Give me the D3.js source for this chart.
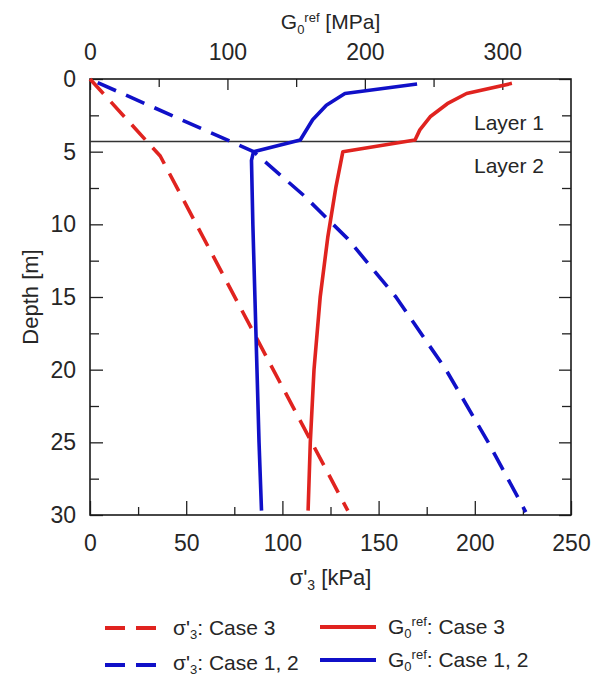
<!DOCTYPE html>
<html>
<head>
<meta charset="utf-8">
<script src="https://cdn.jsdelivr.net/npm/d3@7"></script>
<style>
  body { margin: 0; background: #fff; }
  text { font-family: "Liberation Sans", Arial, sans-serif; fill: #262626; }
</style>
</head>
<body>
<svg id="chart" width="591" height="677"></svg>
<script>
// Effective confining stress sigma'3 [kPa] against depth [m]
const sigmaCase3Depth  = [0, 5.3, 29.7];
const sigmaCase3Value  = [0, 36.5, 134];
const sigmaCase12Depth = [0.25, 5.0, 8, 11, 15, 20, 25, 29.8];
const sigmaCase12Value = [4, 85, 111, 134, 159, 185, 207, 226.5];

// Reference small-strain shear modulus G0ref [MPa] against depth [m]
const gCase3Depth  = [0.3, 1.0, 1.7, 2.6, 3.5, 4.2, 5.0, 7.4, 10.9, 15, 20, 25, 29.7];
const gCase3Value  = [307, 274, 260, 247.5, 240, 236.5, 184, 179, 173, 167.5, 163, 160.3, 158.7];
const gCase12Depth = [0.35, 1.0, 1.8, 2.8, 4.2, 5.0, 5.6, 10, 15, 20, 25, 29.7];
const gCase12Value = [238, 185.5, 172, 162, 153, 119, 117.5, 118.5, 120, 121.5, 123, 124.8];

// Boundary between the two soil layers [m]
const layerBoundary = 4.3;
const layerLabels = ["Layer 1", "Layer 2"];

// Axis ticks
const depthMajor = [0, 5, 10, 15, 20, 25, 30];
const depthMinor = [2.5, 7.5, 12.5, 17.5, 22.5, 27.5];
const kpaMajor = [0, 50, 100, 150, 200, 250];
const kpaMinor = [25, 75, 125, 175, 225];
const mpaMajor = [0, 100, 200, 300];
const mpaMinor = [50, 150, 250];

const RED = "#e0231f";
const BLUE = "#1010c8";

const svg = d3.select("#chart");
const margin = { left: 90, top: 79, right: 20, bottom: 162 };
const W = 591, H = 677;
const x0 = margin.left, x1 = W - margin.right;
const y0 = margin.top, y1 = H - margin.bottom;

const y = d3.scaleLinear().domain([0, 30]).range([y0, y1]);
const xK = d3.scaleLinear().domain([0, 250]).range([x0, x1]);
const xM = d3.scaleLinear().domain([0, 350]).range([x0, x1]);

const fontSize = 23;

function styleAxis(g) {
  g.select(".domain").remove();
  g.selectAll("line").attr("stroke", "#222").attr("stroke-width", 1.3);
  g.selectAll("text").attr("font-size", fontSize).attr("fill", "#262626")
    .attr("font-family", "Liberation Sans, Arial, sans-serif");
}

// Left axis (depth), ticks pointing inward
svg.append("g").attr("transform", `translate(${x0},0)`)
  .call(d3.axisLeft(y).tickValues(depthMajor).tickSize(-13).tickPadding(14))
  .call(styleAxis);
svg.append("g").attr("transform", `translate(${x0},0)`)
  .call(d3.axisLeft(y).tickValues(depthMinor).tickSize(-9).tickFormat(""))
  .call(styleAxis);
// Right side ticks
svg.append("g").attr("transform", `translate(${x1},0)`)
  .call(d3.axisRight(y).tickValues(depthMajor).tickSize(-12).tickFormat(""))
  .call(styleAxis);
svg.append("g").attr("transform", `translate(${x1},0)`)
  .call(d3.axisRight(y).tickValues(depthMinor).tickSize(-9).tickFormat(""))
  .call(styleAxis);

// Bottom axis (sigma'3)
svg.append("g").attr("transform", `translate(0,${y1})`)
  .call(d3.axisBottom(xK).tickValues(kpaMajor).tickSize(-14).tickPadding(20))
  .call(styleAxis);
svg.append("g").attr("transform", `translate(0,${y1})`)
  .call(d3.axisBottom(xK).tickValues(kpaMinor).tickSize(-8).tickFormat(""))
  .call(styleAxis);

// Top axis (G0ref)
svg.append("g").attr("transform", `translate(0,${y0})`)
  .call(d3.axisTop(xM).tickValues(mpaMajor).tickSize(-11).tickPadding(19))
  .call(styleAxis);
svg.append("g").attr("transform", `translate(0,${y0})`)
  .call(d3.axisTop(xM).tickValues(mpaMinor).tickSize(-8).tickFormat(""))
  .call(styleAxis);

// Plot frame
svg.append("rect")
  .attr("x", x0).attr("y", y0).attr("width", x1 - x0).attr("height", y1 - y0)
  .attr("fill", "none").attr("stroke", "#1a1a1a").attr("stroke-width", 1.6);

// Layer boundary
svg.append("line")
  .attr("x1", x0).attr("x2", x1)
  .attr("y1", y(layerBoundary)).attr("y2", y(layerBoundary))
  .attr("stroke", "#333").attr("stroke-width", 1.3);

svg.selectAll("text.layer").data(layerLabels).join("text")
  .attr("class", "layer")
  .attr("x", 544)
  .attr("y", (d, i) => i === 0 ? y(layerBoundary) - 19 : y(layerBoundary) + 24)
  .attr("dy", "0.35em")
  .attr("text-anchor", "end")
  .attr("font-size", 21)
  .text(d => d);

// Curves
const pts = (ds, vs) => ds.map((d, i) => [vs[i], d]);
const lineK = d3.line().x(d => xK(d[0])).y(d => y(d[1]));
const lineM = d3.line().x(d => xM(d[0])).y(d => y(d[1]));

const curves = [
  { data: pts(sigmaCase3Depth, sigmaCase3Value), line: lineK, color: RED, dash: "20,11" },
  { data: pts(sigmaCase12Depth, sigmaCase12Value), line: lineK, color: BLUE, dash: "20,11" },
  { data: pts(gCase3Depth, gCase3Value), line: lineM, color: RED, dash: null },
  { data: pts(gCase12Depth, gCase12Value), line: lineM, color: BLUE, dash: null }
];
curves.forEach(c => {
  svg.append("path")
    .attr("d", c.line(c.data))
    .attr("fill", "none")
    .attr("stroke", c.color)
    .attr("stroke-width", 3.6)
    .attr("stroke-linejoin", "round")
    .attr("stroke-dasharray", c.dash);
});

// Axis titles
svg.append("text")
  .attr("transform", `translate(30,${(y0 + y1) / 2}) rotate(-90)`)
  .attr("text-anchor", "middle").attr("dy", "0.35em")
  .attr("font-size", 22)
  .text("Depth [m]");

const bt = svg.append("text")
  .attr("x", (x0 + x1) / 2).attr("y", 585)
  .attr("text-anchor", "middle").attr("font-size", 22);
bt.append("tspan").text("σ'");
bt.append("tspan").attr("font-size", 14).attr("dy", 5).text("3");
bt.append("tspan").attr("dy", -5).text(" [kPa]");

const tt = svg.append("text")
  .attr("x", (x0 + x1) / 2).attr("y", 29)
  .attr("text-anchor", "middle").attr("font-size", 21);
tt.append("tspan").text("G");
tt.append("tspan").attr("font-size", 13).attr("dy", 5).text("0");
tt.append("tspan").attr("font-size", 13).attr("dy", -12).text("ref");
tt.append("tspan").attr("dy", 7).text(" [MPa]");

// Legend
const legendItems = [
  { x: 105, y: 628, ty: 635, color: RED, dash: "20,11", sym: "σ'", sub: "3", sup: null, label: ": Case 3" },
  { x: 105, y: 665, ty: 670, color: BLUE, dash: "20,11", sym: "σ'", sub: "3", sup: null, label: ": Case 1, 2" },
  { x: 320, y: 627, ty: 634, color: RED, dash: null, sym: "G", sub: "0", sup: "ref", label: ": Case 3" },
  { x: 320, y: 660, ty: 667, color: BLUE, dash: null, sym: "G", sub: "0", sup: "ref", label: ": Case 1, 2" }
];
legendItems.forEach(it => {
  svg.append("line")
    .attr("x1", it.x).attr("x2", it.x + 56)
    .attr("y1", it.y).attr("y2", it.y)
    .attr("stroke", it.color).attr("stroke-width", 4)
    .attr("stroke-dasharray", it.dash);
  const t = svg.append("text")
    .attr("x", it.x + 68).attr("y", it.ty)
    .attr("font-size", 21);
  t.append("tspan").text(it.sym);
  t.append("tspan").attr("font-size", 13).attr("dy", 4).text(it.sub);
  if (it.sup) {
    t.append("tspan").attr("font-size", 13).attr("dy", -12).text(it.sup);
    t.append("tspan").attr("dy", 8).text(it.label);
  } else {
    t.append("tspan").attr("dy", -4).text(it.label);
  }
});
</script>
</body>
</html>
